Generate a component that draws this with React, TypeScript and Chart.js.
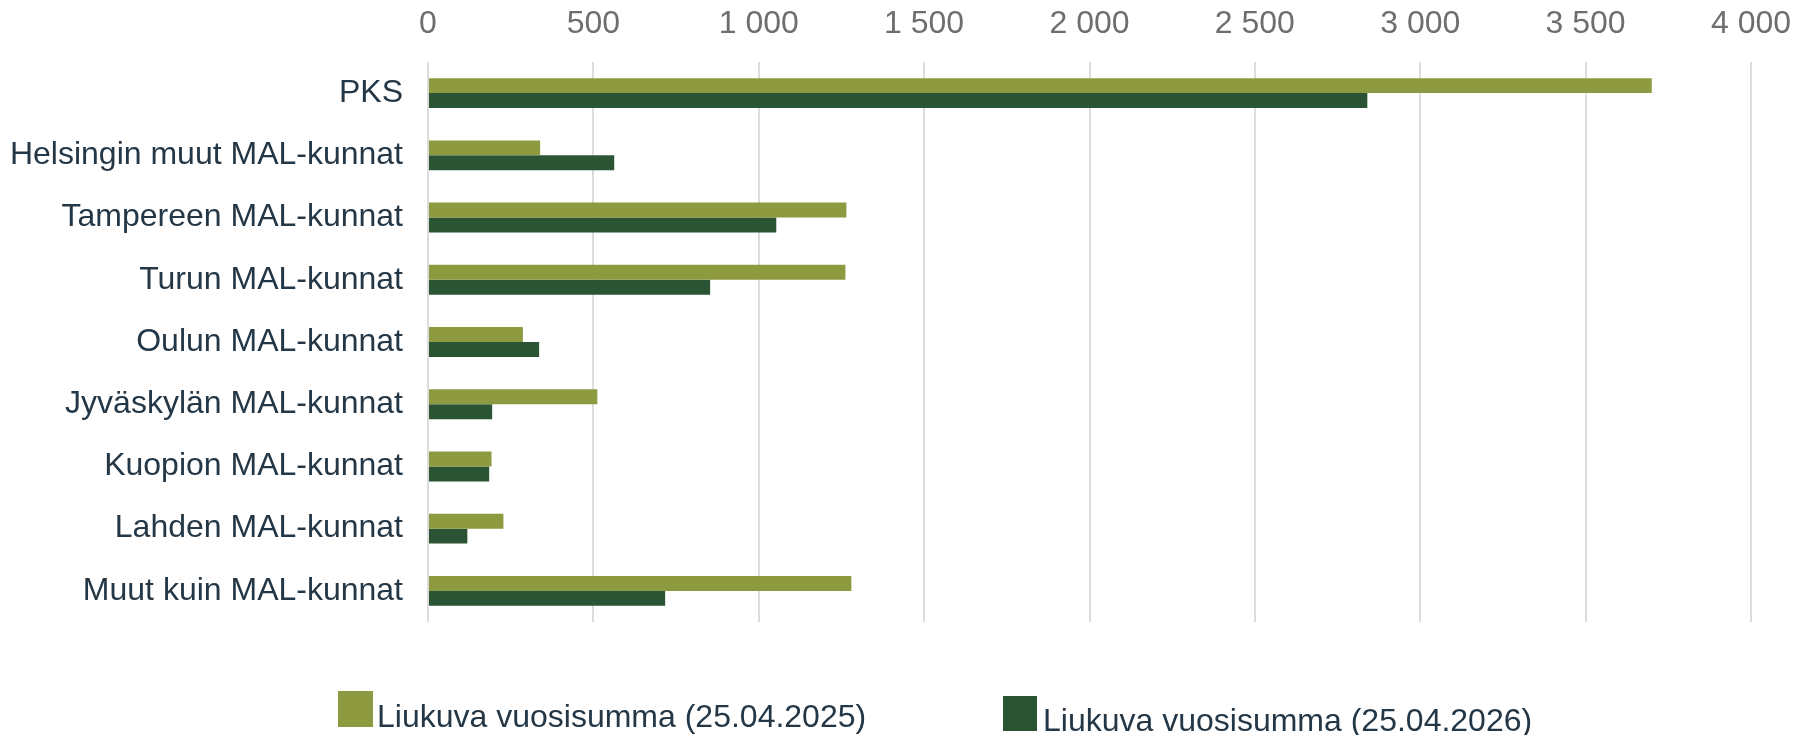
import React, { useEffect, useRef } from "react";
import { Chart, registerables } from "chart.js";

Chart.register(...registerables);

const categories = [
  "PKS",
  "Helsingin muut MAL-kunnat",
  "Tampereen MAL-kunnat",
  "Turun MAL-kunnat",
  "Oulun MAL-kunnat",
  "Jyväskylän MAL-kunnat",
  "Kuopion MAL-kunnat",
  "Lahden MAL-kunnat",
  "Muut kuin MAL-kunnat",
];

const seriesLabels = [
  "Liukuva vuosisumma (25.04.2025)",
  "Liukuva vuosisumma (25.04.2026)",
];

const values2025 = [3700, 339, 1265, 1262, 287, 512, 192, 228, 1280];
const values2026 = [2840, 563, 1053, 853, 336, 194, 185, 119, 717];

const colors = ["#8D9A3F", "#2B5434"];
const FONT = "'Liberation Sans', Arial, sans-serif";

const fmt = (v: number) =>
  String(Math.round(v)).replace(/\B(?=(\d{3})+(?!\d))/g, " ");

const legendPlugin = {
  id: "customLegend",
  afterDraw(chart: any) {
    const ctx = chart.ctx;
    const items = [
      { box: [338, 691, 35, 36], textX: 377, baseY: 727 },
      { box: [1003, 696, 34, 35], textX: 1043, baseY: 731 },
    ];
    ctx.save();
    ctx.font = `32px ${FONT}`;
    ctx.textBaseline = "alphabetic";
    ctx.textAlign = "left";
    items.forEach((it, i) => {
      const ds = chart.data.datasets[i];
      ctx.fillStyle = ds.backgroundColor;
      ctx.fillRect(it.box[0], it.box[1], it.box[2], it.box[3]);
      ctx.fillStyle = "#243746";
      ctx.fillText(ds.label, it.textX, it.baseY);
    });
    ctx.restore();
  },
};

export default function App() {
  const ref = useRef<HTMLCanvasElement | null>(null);

  useEffect(() => {
    if (!ref.current) return;
    const chart = new Chart(ref.current, {
      type: "bar",
      data: {
        labels: categories,
        datasets: [
          {
            label: seriesLabels[0],
            data: values2025,
            backgroundColor: colors[0],
            barPercentage: 1,
            categoryPercentage: 0.48,
          },
          {
            label: seriesLabels[1],
            data: values2026,
            backgroundColor: colors[1],
            barPercentage: 1,
            categoryPercentage: 0.48,
          },
        ],
      },
      options: {
        indexAxis: "y",
        animation: false,
        responsive: false,
        maintainAspectRatio: false,
        layout: { padding: { left: 0, right: 42, top: 0, bottom: 113 } },
        plugins: {
          legend: { display: false },
          tooltip: { enabled: false },
        },
        scales: {
          x: {
            position: "top",
            min: 0,
            max: 4000,
            ticks: {
              stepSize: 500,
              color: "#6e6e6e",
              font: { family: FONT, size: 32 },
              padding: 19,
              callback: (v: any) => fmt(Number(v)),
            },
            grid: {
              color: "#dcdcdc",
              lineWidth: 2,
              drawTicks: false,
            },
            border: { display: false },
            afterFit: (scale: any) => {
              scale.height = 62;
              scale.paddingRight = 0;
              scale.paddingLeft = 0;
            },
          },
          y: {
            ticks: {
              color: "#243746",
              font: { family: FONT, size: 32 },
              padding: 25,
            },
            grid: { display: false, drawTicks: false },
            border: { display: false },
            afterFit: (scale: any) => {
              scale.width = 428;
            },
          },
        },
      },
      plugins: [legendPlugin],
    });
    return () => chart.destroy();
  }, []);

  return (
    <div style={{ position: "absolute", left: 0, top: 0, width: 1793, height: 735, background: "#fff" }}>
      <canvas ref={ref} width={1793} height={735} style={{ width: 1793, height: 735 }} />
    </div>
  );
}
